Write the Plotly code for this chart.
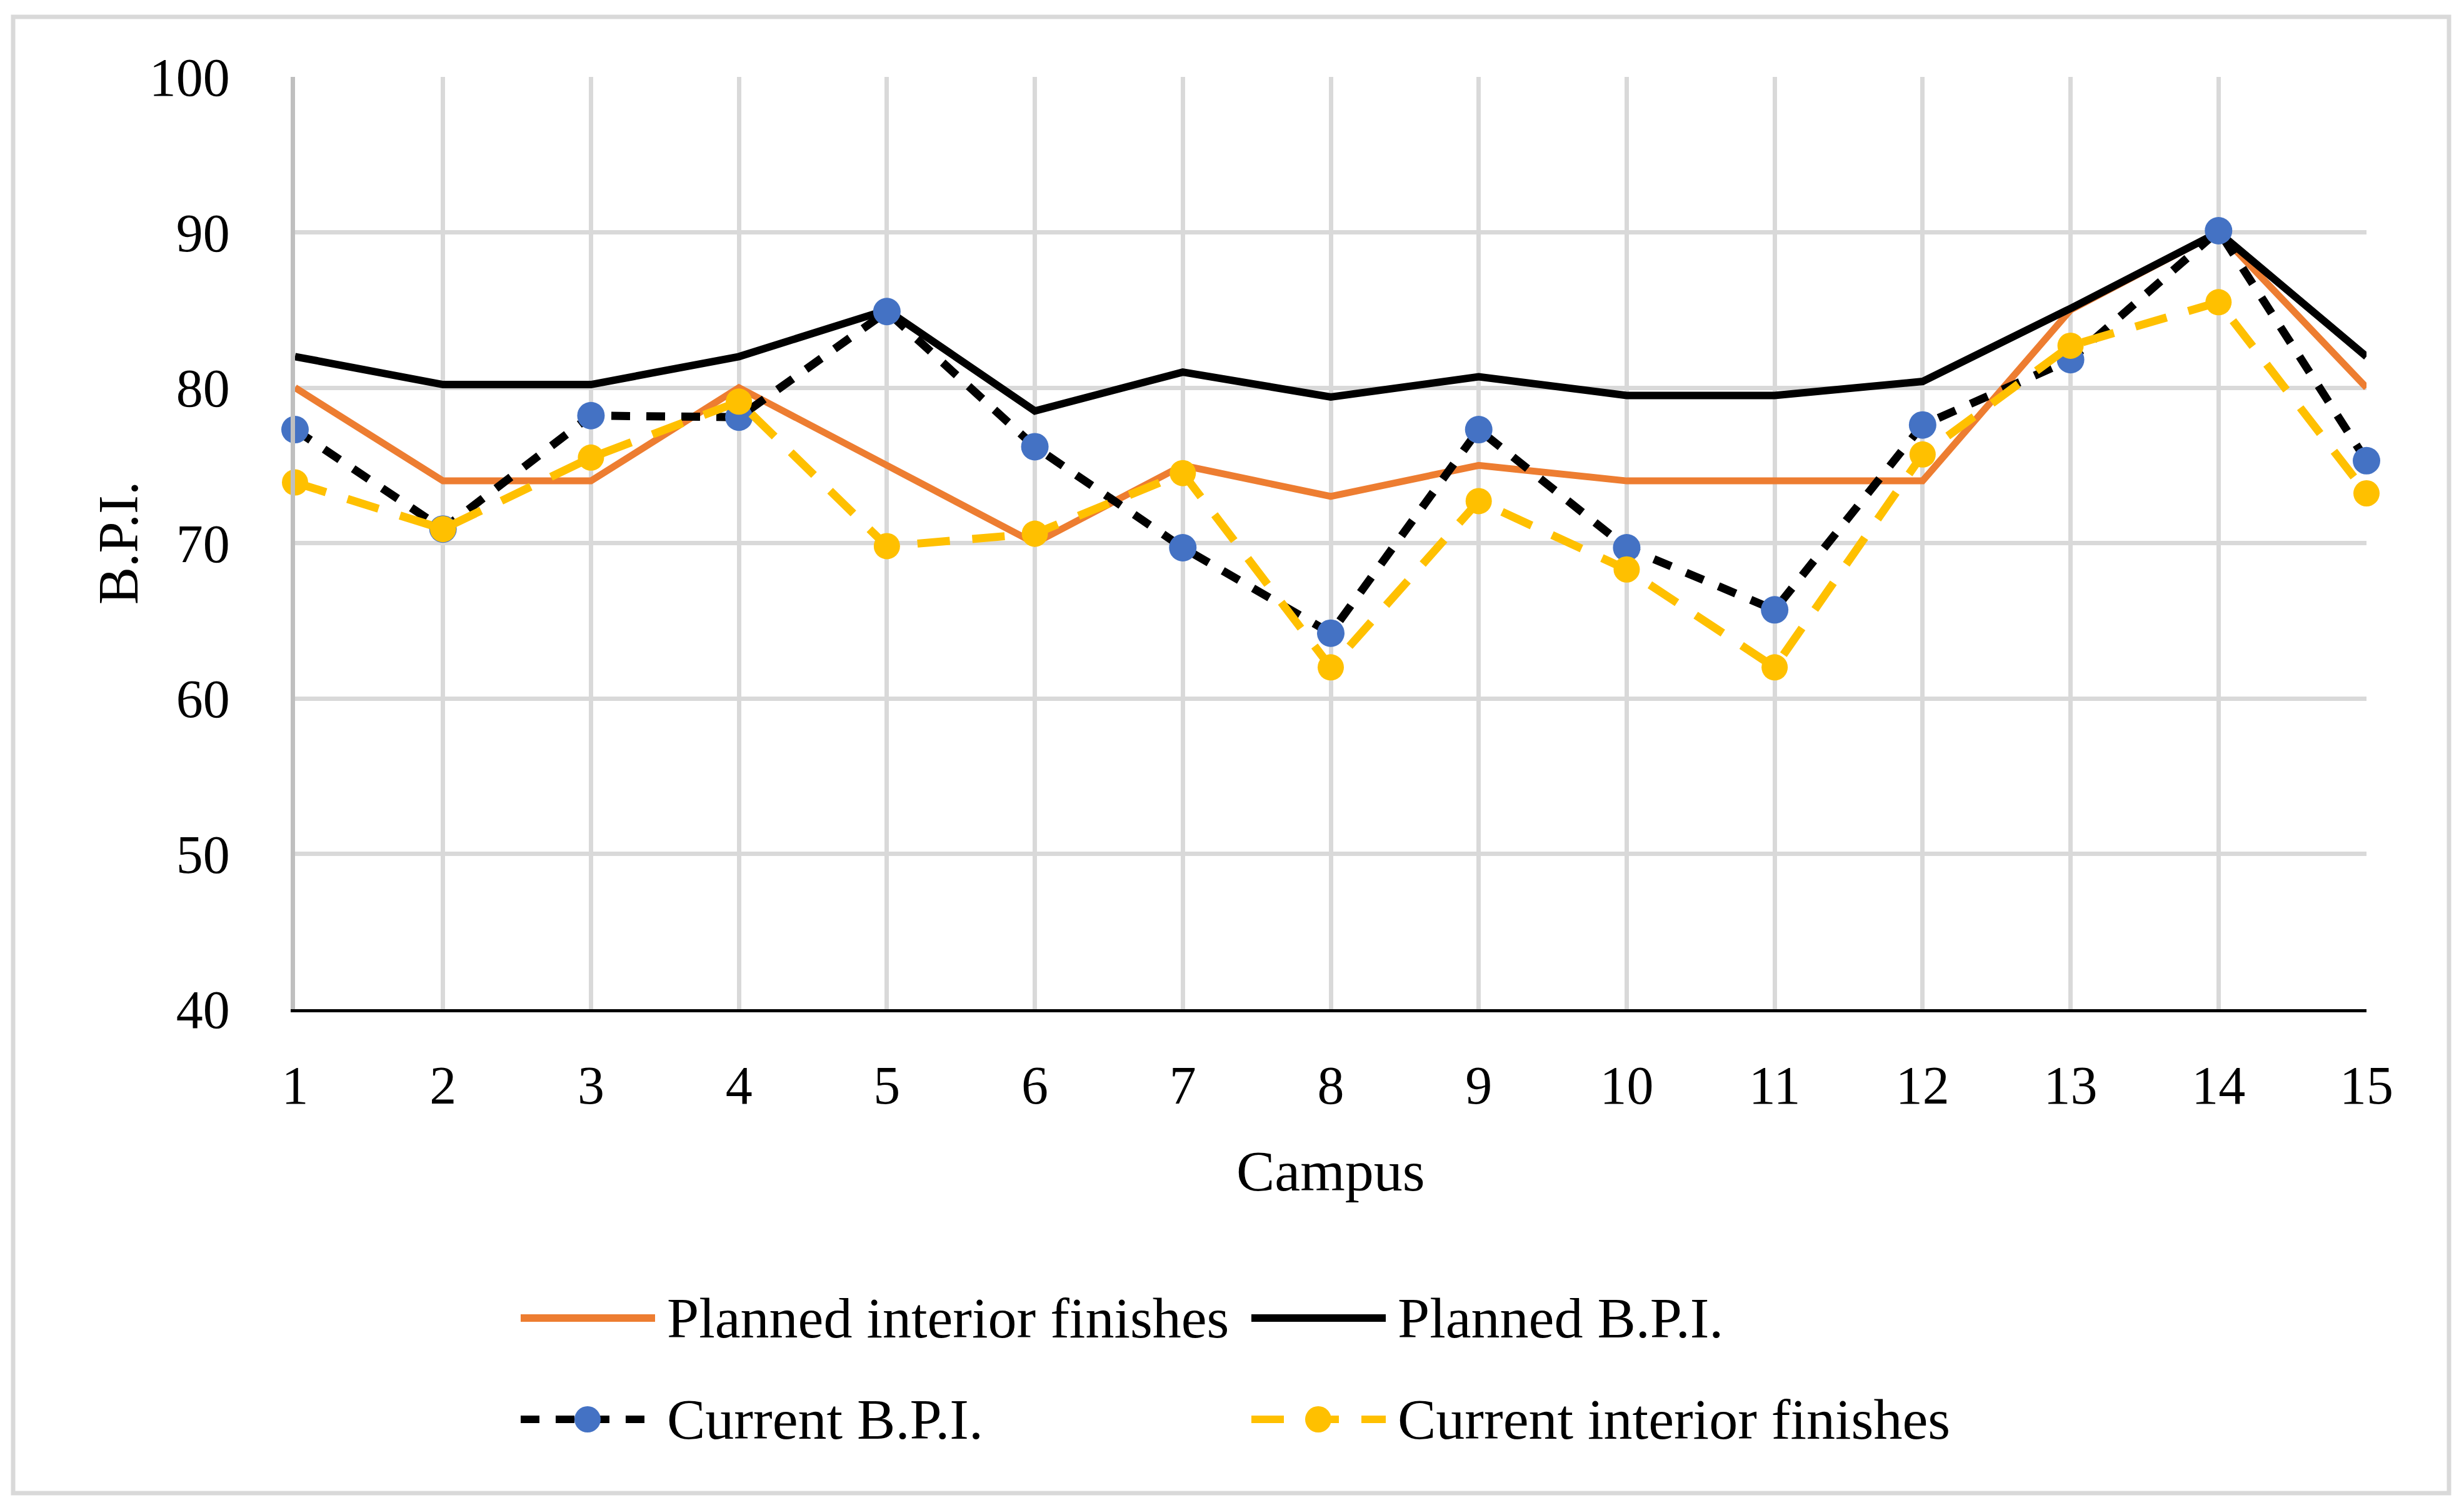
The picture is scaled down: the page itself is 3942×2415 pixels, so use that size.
import plotly.graph_objects as go

# values
campus = list(range(1, 16))
planned_interior = [80, 74, 74, 80, 75, 70, 75, 73, 75, 74, 74, 74, 85, 90, 80]
planned_bpi = [82.0, 80.2, 80.2, 82.0, 85.0, 78.5, 81.0, 79.4, 80.7, 79.5, 79.5, 80.4, 85.1, 90.0, 82.0]
current_bpi = [77.3, 70.9, 78.2, 78.1, 84.9, 76.2, 69.7, 64.2, 77.3, 69.7, 65.7, 77.6, 81.8, 90.1, 75.3]
current_interior = [73.9, 70.9, 75.5, 79.1, 69.8, 70.6, 74.5, 62.0, 72.7, 68.3, 62.0, 75.7, 82.7, 85.5, 73.2]

y_ticks = [40, 50, 60, 70, 80, 90, 100]
names = ["Planned interior finishes", "Planned B.P.I.", "Current B.P.I.", "Current interior finishes"]

ORANGE = "#ED7D31"
BLACK = "#000000"
BLUE = "#4472C4"
YELLOW = "#FFC000"
GRID = "#D9D9D9"
FONT = "Liberation Serif"

W, H = 3942, 2415
# plot box in reference pixels: x 472..3786, y 123..1614
pw, ph = 3314, 1491
OFF = 8  # page body margin
L, T = 472 - OFF, 123 - OFF
R, B = W - L - pw, H - T - ph


def px(x):
    return (x - 472) / pw


def py(y):
    return (1614 - y) / ph


fig = go.Figure()

fig.add_trace(go.Scatter(x=campus, y=planned_interior, mode="lines", name=names[0],
                         line=dict(color=ORANGE, width=11)))
fig.add_trace(go.Scatter(x=campus, y=planned_bpi, mode="lines", name=names[1],
                         line=dict(color=BLACK, width=12)))
fig.add_trace(go.Scatter(x=campus, y=current_bpi, mode="lines+markers", name=names[2],
                         line=dict(color=BLACK, width=13, dash="30px,26px"),
                         marker=dict(color=BLUE, size=44), cliponaxis=False))
fig.add_trace(go.Scatter(x=campus, y=current_interior, mode="lines+markers", name=names[3],
                         line=dict(color=YELLOW, width=13, dash="52px,36px"),
                         marker=dict(color=YELLOW, size=42), cliponaxis=False))

shapes = []
# outer frame
shapes.append(dict(type="rect", xref="paper", yref="paper",
                   x0=px(21), x1=px(3918), y0=py(2388), y1=py(27),
                   line=dict(color=GRID, width=7), layer="below"))

# hand-made legend, two rows
legend_rows = [
    (833, 2108, ORANGE, None, None, names[0]),
    (2002, 2108, BLACK, None, None, names[1]),
    (833, 2270, BLACK, "30px,26px", BLUE, names[2]),
    (2002, 2270, YELLOW, "52px,36px", YELLOW, names[3]),
]
annotations = []
for x0, y0, col, dash, mcol, label in legend_rows:
    shapes.append(dict(type="line", xref="paper", yref="paper",
                       x0=px(x0), x1=px(x0 + 215), y0=py(y0), y1=py(y0),
                       line=dict(color=col, width=12, dash=dash or "solid")))
    if mcol:
        shapes.append(dict(type="circle", xref="paper", yref="paper",
                           xsizemode="pixel", ysizemode="pixel",
                           xanchor=px(x0 + 107), yanchor=py(y0),
                           x0=-21, x1=21, y0=-21, y1=21,
                           fillcolor=mcol, line=dict(width=0)))
    annotations.append(dict(x=px(x0 + 232), y=py(y0), xref="paper", yref="paper",
                            text=label, showarrow=False, xanchor="left", yanchor="middle",
                            font=dict(family=FONT, size=92, color=BLACK)))

annotations.append(dict(x=px(189), y=py(868), xref="paper", yref="paper", text="B.P.I.",
                        textangle=-90, showarrow=False, xanchor="center", yanchor="middle",
                        font=dict(family=FONT, size=90, color=BLACK)))
annotations.append(dict(x=0.5, y=py(1873), xref="paper", yref="paper", text="Campus",
                        showarrow=False, xanchor="center", yanchor="middle",
                        font=dict(family=FONT, size=92, color=BLACK)))

fig.update_layout(
    width=W, height=H,
    margin=dict(l=L, r=R, t=T, b=B),
    paper_bgcolor="white", plot_bgcolor="white",
    showlegend=False,
    shapes=shapes, annotations=annotations,
    font=dict(family=FONT, size=86, color=BLACK),
)

fig.update_xaxes(range=[1, 15], tickvals=campus, ticks="", ticklabelstandoff=43,
                 showgrid=True, gridcolor=GRID, gridwidth=7,
                 showline=True, linecolor=BLACK, linewidth=5,
                 zeroline=False, tickfont=dict(family=FONT, size=86, color=BLACK))
fig.update_yaxes(range=[40, 100], tickvals=y_ticks, ticks="", ticklabelstandoff=80,
                 showgrid=True, gridcolor=GRID, gridwidth=7,
                 showline=True, linecolor="#BFBFBF", linewidth=7,
                 zeroline=False, tickfont=dict(family=FONT, size=86, color=BLACK))

fig.write_html("out.html")
